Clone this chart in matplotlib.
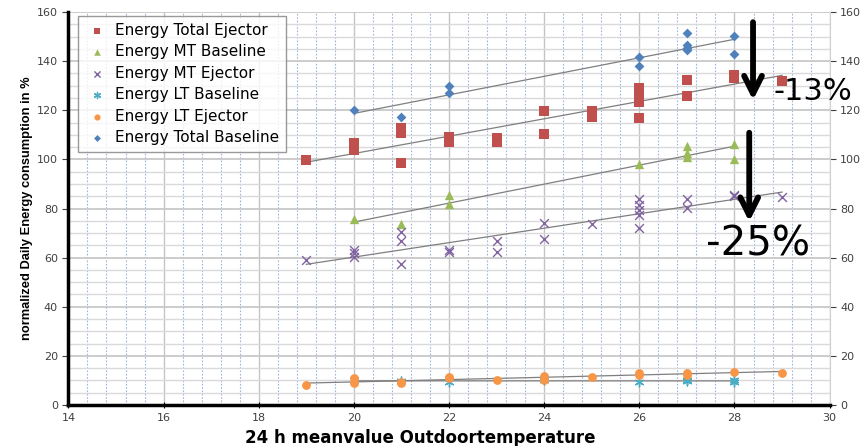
import numpy as np
import matplotlib.pyplot as plt
from matplotlib.ticker import MultipleLocator

# outdoor temperature (x) and normalized energy (y)
total_ejector_x = [19, 20, 20, 21, 21, 21, 22, 22, 23, 23, 24, 24, 25, 25,
                   26, 26, 26, 26, 27, 27, 28, 28, 29]
total_ejector_y = [99.8, 106.5, 103.8, 112.6, 110.6, 98.7, 109.3, 106.9, 108.6, 106.9,
                   119.8, 110.3, 119.7, 117.3, 128.9, 126.2, 123.5, 116.7, 132.3, 125.9,
                   134.4, 133.1, 131.9]

mt_baseline_x = [20, 21, 22, 22, 26, 27, 27, 27, 28, 28]
mt_baseline_y = [75.7, 73.6, 85.5, 81.8, 98.3, 105.6, 102.5, 100.8, 106.3, 100.0]

mt_ejector_x = [19, 20, 20, 20, 21, 21, 21, 22, 22, 23, 23, 24, 24, 25,
                26, 26, 26, 26, 26, 27, 27, 28, 28, 29]
mt_ejector_y = [58.9, 63.3, 61.7, 60.1, 70.3, 66.6, 57.4, 63.1, 62.2, 66.8, 62.4, 74.0, 67.6,
                73.7, 83.7, 81.5, 79.5, 77.5, 72.2, 83.9, 80.3, 85.5, 85.0, 84.5]

lt_baseline_x = [20, 21, 22, 24, 26, 27, 27, 28, 28]
lt_baseline_y = [10.0, 9.8, 9.5, 10.1, 9.5, 10.2, 9.6, 10.2, 9.4]

lt_ejector_x = [19, 20, 20, 21, 21, 22, 22, 23, 24, 24, 25, 26, 26, 27, 27, 28, 29]
lt_ejector_y = [8.1, 11.1, 8.8, 9.5, 9.0, 11.5, 11.0, 10.2, 11.8, 10.2, 11.5, 12.9, 12.3,
                13.2, 12.3, 13.3, 13.2]

total_baseline_x = [20, 21, 22, 22, 26, 26, 27, 27, 27, 27, 28, 28]
total_baseline_y = [120.1, 117.1, 129.9, 126.9, 141.6, 138.0, 151.5, 146.6, 145.5, 144.4,
                    150.4, 142.9]


def plot_series(ax, x, y, label, color, marker, size, lw=0.0):
    ax.scatter(x, y, s=size, color=color, marker=marker, linewidths=lw,
               label=label, zorder=3)
    # linear trendline over the range of the series
    k, d = np.polyfit(x, y, 1)
    xs = np.array([min(x), max(x)])
    ax.plot(xs, k * xs + d, color='#7f7f7f', lw=0.9, zorder=2)


fig = plt.figure(figsize=(8.66, 4.46), dpi=100)
ax = fig.add_axes([0.079, 0.092, 0.879, 0.881])

plot_series(ax, total_ejector_x, total_ejector_y, 'Energy Total Ejector', '#c0504d', 's', 45)
plot_series(ax, mt_baseline_x, mt_baseline_y, 'Energy MT Baseline', '#9bbb59', '^', 45)
plot_series(ax, mt_ejector_x, mt_ejector_y, 'Energy MT Ejector', '#8064a2', 'x', 40, lw=1.0)
plot_series(ax, lt_baseline_x, lt_baseline_y, 'Energy LT Baseline', '#4bacc6', (6, 2, 0), 40, lw=1.0)
plot_series(ax, lt_ejector_x, lt_ejector_y, 'Energy LT Ejector', '#f79646', 'o', 40)
plot_series(ax, total_baseline_x, total_baseline_y, 'Energy Total Baseline', '#4f81bd', 'D', 25)

ax.set_xlim(14, 30)
ax.set_ylim(0, 160)
ax.xaxis.set_major_locator(MultipleLocator(2))
ax.xaxis.set_minor_locator(MultipleLocator(0.4))
ax.yaxis.set_major_locator(MultipleLocator(20))
ax.yaxis.set_minor_locator(MultipleLocator(5))

ax.grid(True, axis='x', which='major', color='#c4c4c4', lw=1.0, zorder=0)
ax.grid(True, axis='x', which='minor', color='#9fb4dc', lw=0.8, ls=(0, (1.5, 1.5)), zorder=0)
ax.grid(True, axis='y', which='major', color='#c8c8c8', lw=1.3, zorder=0)
ax.grid(True, axis='y', which='minor', color='#dadada', lw=1.0, zorder=0)
ax.set_axisbelow(True)

for side in ['left', 'bottom']:
    ax.spines[side].set_linewidth(2.5)
    ax.spines[side].set_color('black')
ax.spines['top'].set_visible(False)
ax.spines['right'].set_color('#d0d0d0')

ax.tick_params(which='minor', length=0)
ax.tick_params(axis='y', which='major', right=True, labelright=True, length=4,
               labelsize=8, labelcolor='#404040', color='#404040')
ax.tick_params(axis='x', which='major', direction='inout', length=5,
               labelsize=8, labelcolor='#404040')

ax.set_xlabel('24 h meanvalue Outdoortemperature', fontsize=12, fontweight='bold', labelpad=5)
ax.xaxis.set_label_coords(0.462, -0.06)
ax.set_ylabel('normalized Daily Energy consumption in %', fontsize=9.3, fontweight='bold',
              family='Liberation Sans', labelpad=10)
ax.yaxis.set_label_coords(-0.047, 0.50)

leg = ax.legend(loc='upper left', bbox_to_anchor=(0.012, 0.99), borderaxespad=0, fontsize=11,
                frameon=True, fancybox=False, edgecolor='#808080', markerscale=0.7,
                handletextpad=0.4, borderpad=0.45, labelspacing=0.42, handlelength=1.6)
leg.get_frame().set_linewidth(1.0)

# reduction arrows and labels
ax.annotate('', xy=(28.39, 123), xytext=(28.39, 157),
            arrowprops=dict(arrowstyle='->', lw=4.2, color='black', mutation_scale=32))
ax.annotate('', xy=(28.31, 73.5), xytext=(28.31, 112),
            arrowprops=dict(arrowstyle='->', lw=4.2, color='black', mutation_scale=32))
ax.text(28.82, 127.6, '-13%', fontsize=22, va='center', ha='left', clip_on=False, zorder=5)
ax.text(27.4, 65.5, '-25%', fontsize=29, va='center', ha='left', zorder=5)

plt.savefig('out.png', dpi=100)
